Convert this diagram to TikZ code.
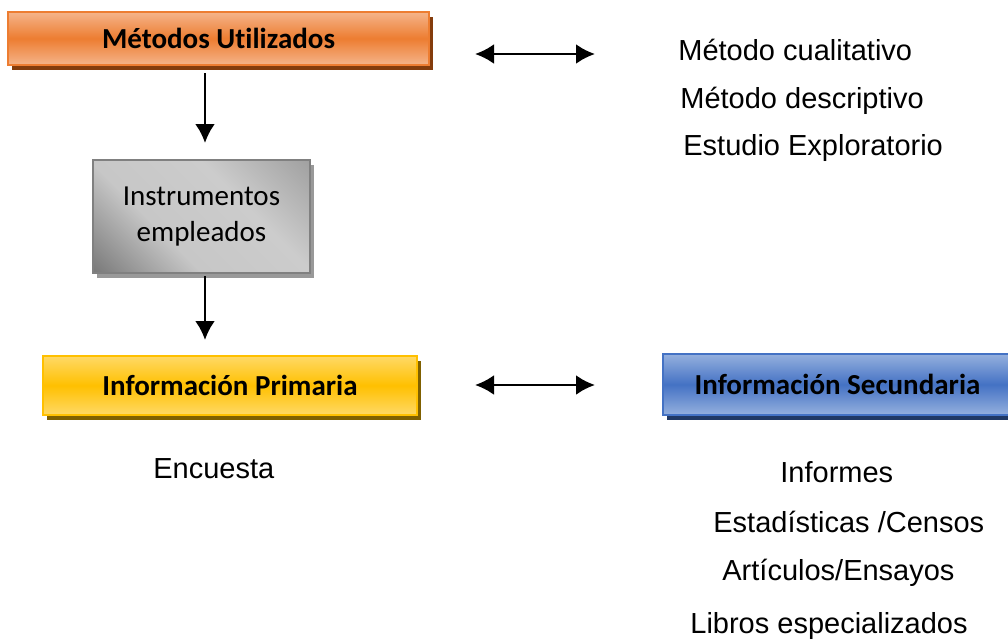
\documentclass[tikz,border=0pt]{standalone}
\usepackage{fontspec}
\setmainfont{Liberation Sans}
\newfontfamily\calibri[Ligatures={NoCommon, NoRare}]{Carlito}
\usetikzlibrary{shadows, arrows.meta}

\definecolor{naranja}{HTML}{ED7D31}
\definecolor{naranjaClaro}{HTML}{F5B48A}
\definecolor{naranjaSombra}{HTML}{843C0C}
\definecolor{amarillo}{HTML}{FFC000}
\definecolor{amarilloClaro}{HTML}{FFD966}
\definecolor{amarilloSombra}{HTML}{7F6000}
\definecolor{azul}{HTML}{4472C4}
\definecolor{azulClaro}{HTML}{95B0DE}
\definecolor{azulSombra}{HTML}{203864}

\pgfdeclarehorizontalshading{grisDiag}{100bp}{color(0bp)=(black!72); color(38bp)=(black!22); color(62bp)=(black!20); color(100bp)=(black!48)}

\tikzstyle{caja} = [rectangle, inner sep=0pt, text centered, line width=0.75pt,
font=\calibri\bfseries\fontsize{14.5}{17}\selectfont]
\tikzstyle{cajaNaranja} = [caja, draw=naranja, top color=naranjaClaro, bottom color=naranjaClaro,
middle color=naranja, general shadow={fill=naranjaSombra, shadow xshift=2pt, shadow yshift=-2.5pt},
minimum width=210.5pt, minimum height=26.5pt]
\tikzstyle{cajaGris} = [caja, draw=black!50, shading=grisDiag, shading angle=45,
general shadow={fill=black!40, shadow xshift=2pt, shadow yshift=-2.5pt},
font=\calibri\fontsize{14.5}{18}\selectfont, align=center,
minimum width=108.5pt, minimum height=56.5pt]
\tikzstyle{cajaAmarilla} = [caja, draw=amarillo, top color=amarilloClaro, bottom color=amarilloClaro,
middle color=amarillo, general shadow={fill=amarilloSombra, shadow xshift=2pt, shadow yshift=-2.5pt},
minimum width=187pt, minimum height=29.5pt]
\tikzstyle{cajaAzul} = [caja, draw=azul, top color=azulClaro, bottom color=azulClaro,
middle color=azul, general shadow={fill=azulSombra, shadow xshift=2pt, shadow yshift=-2.5pt},
minimum width=174.5pt, minimum height=30.5pt]
\tikzstyle{texto} = [anchor=base west, inner sep=0pt, font=\fontsize{14.5}{17}\selectfont]
\tikzstyle{arrow} = [line width=1.4pt, -{Latex[length=9.5pt, width=10pt]}]
\tikzstyle{twoway} = [line width=1.4pt, {Latex[length=9.5pt, width=10pt]}-{Latex[length=9.5pt, width=10pt]}]

\begin{document}
\begin{tikzpicture}[x=0.5pt, y=-0.5pt]
    \clip (0,0) rectangle (1008,639);

    \node (metodos) [cajaNaranja] at (218.5,38.5) {Métodos Utilizados};
    \node (instrumentos) [cajaGris] at (201.5,216.5) {Instrumentos\\empleados};
    \node (primaria) [cajaAmarilla] at (230,385.5) {Información Primaria};
    \node (secundaria) [cajaAzul] at (837.5,384.5) {Información Secundaria};

    \node (cualitativo) [texto] at (678,60) {Método cualitativo};
    \node (descriptivo) [texto] at (680,108) {Método descriptivo};
    \node (exploratorio) [texto] at (683,155) {Estudio Exploratorio};
    \node (encuesta) [texto] at (153,478) {Encuesta};
    \node (informes) [texto] at (780,482) {Informes};
    \node (estadisticas) [texto] at (713,532) {Estadísticas /Censos};
    \node (articulos) [texto] at (722,580) {Artículos/Ensayos};
    \node (libros) [texto] at (690,633) {Libros especializados};

    \coordinate (m1) at (205,73);
    \coordinate (i1) at (205,143);
    \coordinate (i2) at (205,276);
    \coordinate (p1) at (205,340);
    \coordinate (topL) at (475,54);
    \coordinate (topR) at (595,54);
    \coordinate (botL) at (475,385);
    \coordinate (botR) at (595,385);

    \draw[arrow] (m1) -- (i1);
    \draw[arrow] (i2) -- (p1);
    \draw[twoway] (topL) -- (topR);
    \draw[twoway] (botL) -- (botR);

\end{tikzpicture}
\end{document}
